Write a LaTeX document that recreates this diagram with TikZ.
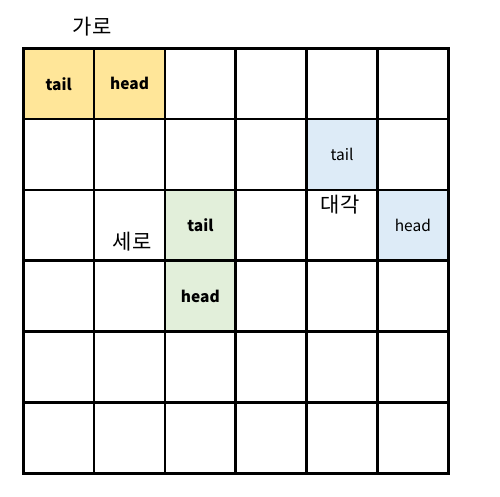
\documentclass[tikz,border=0pt]{standalone}
\usepackage{fontspec}
\setmainfont{Noto Sans CJK KR}
\begin{document}
\begin{tikzpicture}[x=1pt,y=-1pt,
  cell/.style={draw=black,line width=2.6pt,minimum size=70.83pt,inner sep=0pt,anchor=north west,font=\fontsize{15.5}{18}\selectfont},
  yel/.style={fill={rgb,255:red,255;green,230;blue,153}},
  blu/.style={fill={rgb,255:red,221;green,235;blue,247}},
  grn/.style={fill={rgb,255:red,226;green,239;blue,218}},
  lbl/.style={font=\fontsize{21}{25}\selectfont,inner sep=0pt}]
\useasboundingbox (0,0) rectangle (500,496);
\foreach \r in {0,...,5}{
  \foreach \c in {0,...,5}{
    \node[cell] (c\r\c) at ({22+70.83*\c},{47+70.83*\r}) {};
  }
}
\node[cell,yel] at (c00.north west) {\bfseries tail};
\node[cell,yel] at (c01.north west) {\bfseries head};
\node[cell,blu] at (c14.north west) {tail};
\node[cell,blu] at (c25.north west) {head};
\node[cell,grn] at (c22.north west) {\bfseries tail};
\node[cell,grn] at (c32.north west) {\bfseries head};
\node[lbl] (garo) at (92,27) {가로};
\node[lbl] (sero) at (132,242) {세로};
\node[lbl] (daegak) at (340,205) {대각};
\end{tikzpicture}
\end{document}
